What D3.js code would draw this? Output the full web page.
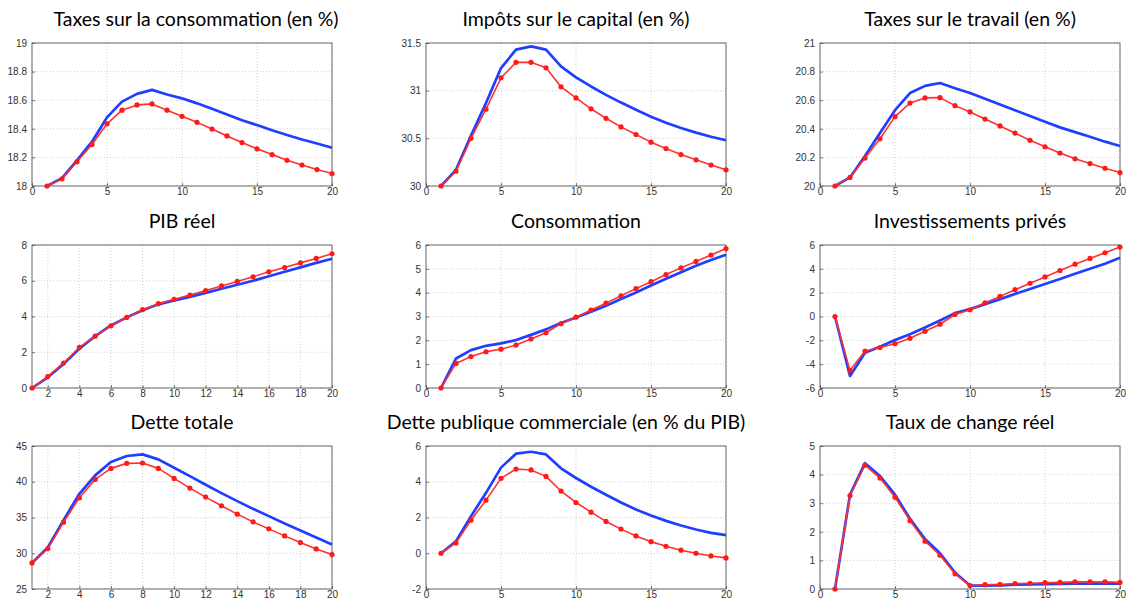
<!DOCTYPE html>
<html><head><meta charset="utf-8">
<script src="https://cdn.jsdelivr.net/npm/d3@7"></script>
<style>
body{margin:0;background:#fff;}
svg{display:block;}
.tick text{font-family:"Liberation Sans",Arial,sans-serif;font-size:10px;fill:#333;}
.title{font-family:Lato,"Open Sans",sans-serif;font-size:19.5px;fill:#000;}
</style></head><body>
<svg id="c" width="1126" height="602"></svg>
<script>
const periods = d3.range(1, 21);
const titles = ["Taxes sur la consommation (en %)","Impôts sur le capital (en %)","Taxes sur le travail (en %)",
"PIB réel","Consommation","Investissements privés","Dette totale","Dette publique commerciale (en % du PIB)","Taux de change réel"];

const blue1 = [18.0,18.055,18.18,18.31,18.48,18.59,18.644,18.672,18.64,18.613,18.578,18.54,18.50,18.46,18.426,18.39,18.357,18.325,18.297,18.267];
const red1  = [18.0,18.05,18.17,18.29,18.435,18.53,18.567,18.574,18.53,18.487,18.445,18.398,18.35,18.304,18.26,18.22,18.18,18.147,18.115,18.087];
const blue2 = [30.0,30.17,30.53,30.87,31.237,31.43,31.465,31.43,31.254,31.14,31.044,30.956,30.875,30.80,30.727,30.664,30.608,30.56,30.516,30.48];
const red2  = [30.0,30.155,30.5,30.805,31.135,31.297,31.297,31.24,31.04,30.924,30.81,30.71,30.62,30.54,30.46,30.393,30.33,30.275,30.22,30.17];
const blue3 = [20.0,20.06,20.21,20.37,20.53,20.65,20.70,20.72,20.684,20.65,20.61,20.57,20.53,20.49,20.45,20.41,20.377,20.344,20.31,20.28];
const red3  = [20.0,20.06,20.195,20.33,20.485,20.58,20.616,20.618,20.562,20.518,20.468,20.42,20.37,20.32,20.274,20.23,20.19,20.157,20.124,20.094];
const blue4 = [0,0.6,1.35,2.2,2.9,3.5,3.95,4.35,4.68,4.9,5.1,5.32,5.55,5.78,6.0,6.25,6.5,6.75,7.0,7.23];
const red4  = [0,0.64,1.40,2.27,2.90,3.48,3.95,4.38,4.72,4.96,5.2,5.45,5.71,5.96,6.22,6.5,6.74,7.0,7.25,7.51];
const blue5 = [0,1.24,1.59,1.77,1.87,2.01,2.23,2.46,2.73,2.96,3.2,3.45,3.73,4.01,4.30,4.58,4.86,5.13,5.37,5.59];
const red5  = [0,1.03,1.32,1.52,1.63,1.80,2.06,2.32,2.70,2.97,3.27,3.56,3.87,4.17,4.46,4.76,5.04,5.31,5.58,5.85];
const blue6 = [0,-4.99,-3.04,-2.54,-1.97,-1.49,-0.93,-0.34,0.28,0.62,1.04,1.46,1.89,2.31,2.73,3.15,3.58,4.0,4.42,4.93];
const red6  = [0,-4.54,-2.9,-2.6,-2.28,-1.83,-1.24,-0.65,0.17,0.56,1.15,1.69,2.25,2.79,3.32,3.86,4.39,4.87,5.35,5.83];
const blue7 = [28.64,30.8,34.63,38.32,40.89,42.76,43.6,43.83,43.13,41.96,40.79,39.58,38.41,37.29,36.21,35.19,34.16,33.18,32.2,31.21];
const red7  = [28.64,30.65,34.35,37.76,40.33,41.87,42.57,42.62,41.87,40.47,39.11,37.85,36.64,35.47,34.39,33.41,32.43,31.5,30.6,29.81];
const blue8 = [0,0.67,2.07,3.38,4.79,5.57,5.68,5.53,4.75,4.21,3.72,3.27,2.84,2.45,2.11,1.81,1.55,1.33,1.14,1.01];
const red8  = [0,0.58,1.85,2.97,4.19,4.71,4.66,4.30,3.48,2.84,2.30,1.78,1.35,0.97,0.65,0.39,0.17,0.0,-0.15,-0.26];
const blue9 = [0,3.3,4.4,3.95,3.3,2.45,1.75,1.25,0.57,0.12,0.12,0.13,0.15,0.16,0.17,0.18,0.19,0.19,0.19,0.19];
const red9  = [0,3.27,4.33,3.88,3.21,2.39,1.67,1.18,0.53,0.12,0.15,0.16,0.19,0.2,0.22,0.23,0.25,0.25,0.25,0.23];

const xDomains = [[0,20],[0,20],[0,20],[1,20],[0,20],[0,20],[1,20],[0,20],[0,20]];
const xTicks = [[0,5,10,15,20],[0,5,10,15,20],[0,5,10,15,20],[2,4,6,8,10,12,14,16,18,20],[0,5,10,15,20],[0,5,10,15,20],[2,4,6,8,10,12,14,16,18,20],[0,5,10,15,20],[0,5,10,15,20]];
const yDomains = [[18,19],[30,31.5],[20,21],[0,8],[0,6],[-6,6],[25,45],[-2,6],[0,5]];
const yTicks = [[18,18.2,18.4,18.6,18.8,19],[30,30.5,31,31.5],[20,20.2,20.4,20.6,20.8,21],[0,2,4,6,8],[0,1,2,3,4,5,6],[-6,-4,-2,0,2,4,6],[25,30,35,40,45],[-2,0,2,4,6],[0,1,2,3,4,5]];
const blues = [blue1,blue2,blue3,blue4,blue5,blue6,blue7,blue8,blue9];
const reds = [red1,red2,red3,red4,red5,red6,red7,red8,red9];

// layout
const colLeft = [32, 426, 820], plotW = 300;
const rowTop = [43, 245, 446], plotH = 143;
const titleDx = [14,0,0,0,0,0,0,-10,0];

const svg = d3.select("#c");
titles.forEach((t, i) => {
  const L = colLeft[i % 3], T = rowTop[Math.floor(i / 3)];
  const g = svg.append("g").attr("transform", `translate(${L},${T})`);
  const x = d3.scaleLinear().domain(xDomains[i]).range([0, plotW]);
  const y = d3.scaleLinear().domain(yDomains[i]).range([plotH, 0]);
  // grid
  g.append("g").selectAll("line").data(xTicks[i]).join("line")
    .attr("x1", d => x(d)).attr("x2", d => x(d)).attr("y1", 0).attr("y2", plotH)
    .attr("stroke", "#bbb").attr("stroke-width", 0.7).attr("stroke-dasharray", "1,2");
  g.append("g").selectAll("line").data(yTicks[i]).join("line")
    .attr("y1", d => y(d)).attr("y2", d => y(d)).attr("x1", 0).attr("x2", plotW)
    .attr("stroke", "#bbb").attr("stroke-width", 0.7).attr("stroke-dasharray", "1,2");
  // axes
  const fmt = d => String(d);
  const ax = g.append("g").attr("transform", `translate(0,${plotH})`)
    .call(d3.axisBottom(x).tickValues(xTicks[i]).tickFormat(fmt).tickSizeInner(-3).tickSizeOuter(0).tickPadding(2));
  const ay = g.append("g")
    .call(d3.axisLeft(y).tickValues(yTicks[i]).tickFormat(fmt).tickSizeInner(-3).tickSizeOuter(0).tickPadding(5));
  [ax, ay].forEach(a => { a.select(".domain").remove(); a.selectAll(".tick line").attr("stroke", "#444").attr("stroke-width", 0.7); });
  g.append("rect").attr("width", plotW).attr("height", plotH).attr("fill", "none").attr("stroke", "#444").attr("stroke-width", 0.8);
  // lines
  const line = d3.line().x((d, k) => x(periods[k])).y(d => y(d));
  g.append("path").datum(blues[i]).attr("d", line).attr("fill", "none").attr("stroke", "#1f3fff").attr("stroke-width", 2.7).attr("stroke-linejoin", "round");
  g.append("path").datum(reds[i]).attr("d", line).attr("fill", "none").attr("stroke", "#ff3030").attr("stroke-width", 1.6).attr("stroke-linejoin", "round");
  g.append("g").selectAll("circle").data(reds[i]).join("circle")
    .attr("cx", (d, k) => x(periods[k])).attr("cy", d => y(d)).attr("r", 2.6).attr("fill", "#ff1a1a");
  // title
  svg.append("text").attr("class", "title").attr("x", L + plotW / 2 + titleDx[i]).attr("y", T - 17)
    .attr("text-anchor", "middle").text(t);
});
</script></body></html>
